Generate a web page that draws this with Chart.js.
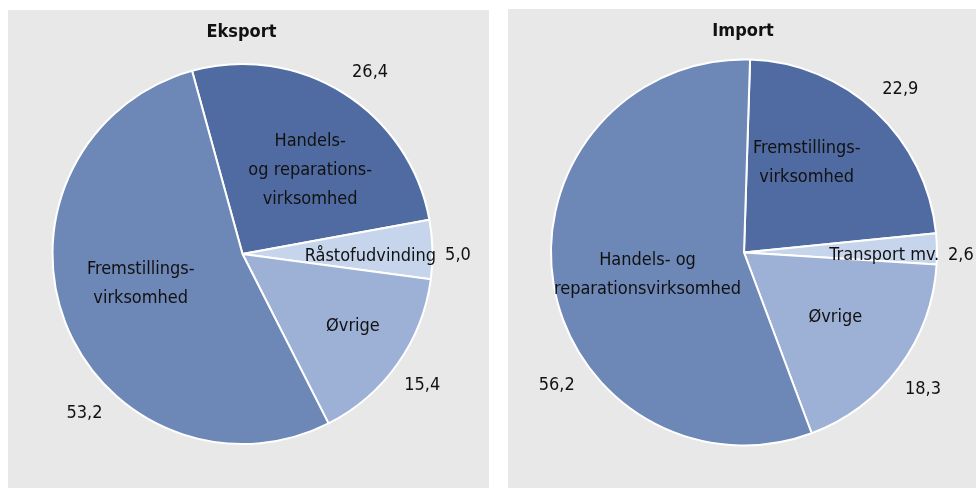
<!DOCTYPE html>
<html>
<head>
<meta charset="utf-8">
<script src="https://cdn.jsdelivr.net/npm/chart.js@4/dist/chart.umd.min.js"></script>
<style>
  html,body{margin:0;padding:0;background:#fff;}
  body{width:976px;height:488px;position:relative;overflow:hidden;}
  .panel{position:absolute;background:#e8e8e8;}
  #p1{left:8px;top:10px;width:481px;height:478px;}
  #p2{left:508px;top:9px;width:468px;height:479px;}
  canvas{display:block;}
</style>
</head>
<body>
<div class="panel" id="p1"><canvas id="c1" width="481" height="478"></canvas></div>
<div class="panel" id="p2"><canvas id="c2" width="468" height="479"></canvas></div>
<script>
// data
const exportTitle = 'Eksport';
const exportLabels = ['Handels- og reparationsvirksomhed', 'Råstofudvinding', 'Øvrige', 'Fremstillingsvirksomhed'];
const exportValues = [26.4, 5.0, 15.4, 53.2];
const exportLines = [['Handels-', 'og reparations-', 'virksomhed'], ['Råstofudvinding'], ['Øvrige'], ['Fremstillings-', 'virksomhed']];

const importTitle = 'Import';
const importLabels = ['Fremstillingsvirksomhed', 'Transport mv.', 'Øvrige', 'Handels- og reparationsvirksomhed'];
const importValues = [22.9, 2.6, 18.3, 56.2];
const importLines = [['Fremstillings-', 'virksomhed'], ['Transport mv.'], ['Øvrige'], ['Handels- og', 'reparationsvirksomhed']];

// colours
const DARK = '#506ba1', MID = '#6d87b6', LIGHT = '#9db0d5', PALE = '#c6d5eb';
const exportColors = [DARK, PALE, LIGHT, MID];
const importColors = [DARK, PALE, LIGHT, MID];

// label placement: [radius fraction, angle offset in degrees from slice middle]
const exportInner = [[0.568, 6.7], [0.673, 2.3], [0.696, -2], [0.559, 4.6]];
const exportOuter = [[1.17, 2.9], [1.134, 1.8], [1.17, 0.7], [1.18, -24]];
const importInner = [[0.566, -8], [0.727, 2.1], [0.582, -1], [0.513, -3.6]];
const importOuter = [[1.172, 0.7], [1.124, 1.8], [1.168, 0.9], [1.19, -26]];

const FONT = '"DejaVu Sans Condensed", "DejaVu Sans", sans-serif';
const fmt = v => v.toFixed(1).replace('.', ',');

const pieText = {
  id: 'pieText',
  afterDatasetsDraw(chart, args, opts){
    const ctx = chart.ctx;
    const meta = chart.getDatasetMeta(0);
    const vals = chart.data.datasets[0].data;
    ctx.save();
    ctx.fillStyle = '#111';
    ctx.textAlign = 'center';
    ctx.textBaseline = 'middle';
    // title
    ctx.font = 'bold 18px ' + FONT;
    const ca = chart.chartArea;
    ctx.fillText(opts.title, (ca.left + ca.right) / 2 - 1, 22);
    ctx.font = '18px ' + FONT;
    meta.data.forEach((arc, i) => {
      const p = arc.getProps(['x', 'y', 'startAngle', 'endAngle', 'outerRadius'], true);
      const mid = (p.startAngle + p.endAngle) / 2;
      const inn = opts.inner[i], out = opts.outer[i];
      let a = mid + inn[1] * Math.PI / 180;
      let cx = p.x + Math.cos(a) * p.outerRadius * inn[0];
      let cy = p.y + Math.sin(a) * p.outerRadius * inn[0];
      const lines = opts.lines[i];
      const lh = 29;
      lines.forEach((t, k) => {
        ctx.fillText(t, cx, cy + (k - (lines.length - 1) / 2) * lh);
      });
      a = mid + out[1] * Math.PI / 180;
      ctx.fillText(fmt(vals[i]), p.x + Math.cos(a) * p.outerRadius * out[0], p.y + Math.sin(a) * p.outerRadius * out[0]);
    });
    ctx.restore();
  }
};

function makePie(id, labels, values, colors, rotation, padding, textOpts){
  return new Chart(document.getElementById(id), {
    type: 'pie',
    data: { labels, datasets: [{ data: values, backgroundColor: colors, borderColor: '#fff', borderWidth: 2, hoverOffset: 0 }] },
    options: {
      responsive: false, animation: false, devicePixelRatio: 1,
      rotation: rotation,
      layout: { padding },
      plugins: { legend: { display: false }, tooltip: { enabled: false }, pieText: textOpts }
    },
    plugins: [pieText]
  });
}

makePie('c1', exportLabels, exportValues, exportColors, -15.4,
  { left: 43.5, right: 55.5, top: 53, bottom: 43 },
  { title: exportTitle, lines: exportLines, inner: exportInner, outer: exportOuter });
makePie('c2', importLabels, importValues, importColors, 1.8,
  { left: 42, right: 38, top: 49.5, bottom: 41.5 },
  { title: importTitle, lines: importLines, inner: importInner, outer: importOuter });
</script>
</body>
</html>
